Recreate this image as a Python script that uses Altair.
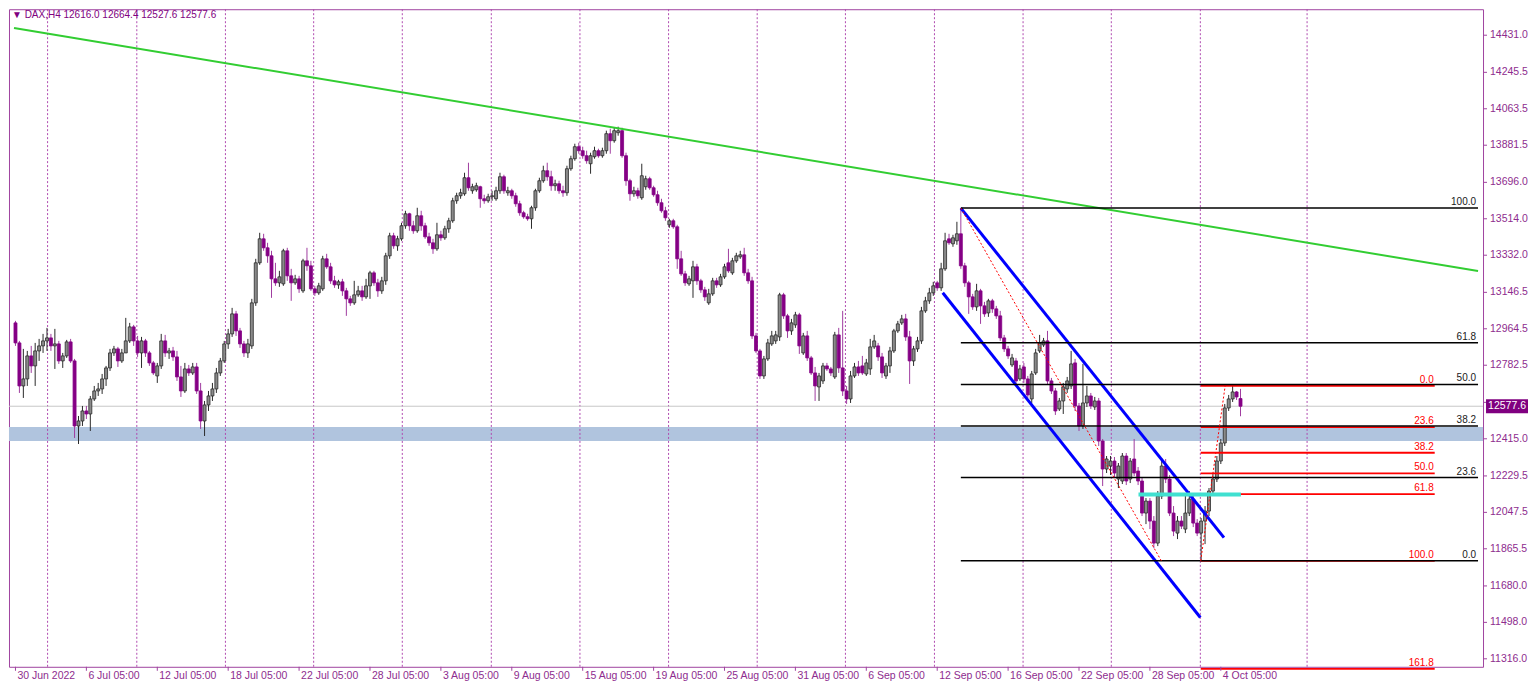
import altair as alt
import pandas as pd

# ---------------- data ----------------
symbol = "DAX,H4"

opens = [
    12994, 12894, 12679, 12714, 12829, 12779, 12854, 12879, 12904, 12919,
    12879, 12889, 12804, 12829, 12899, 12804, 12479, 12504, 12554, 12539,
    12614, 12654, 12664, 12714, 12769, 12844, 12864, 12804, 12844, 12904,
    12974, 12904, 12844, 12904, 12844, 12794, 12729, 12779, 12904, 12844,
    12854, 12824, 12724, 12654, 12764, 12744, 12774, 12654, 12504, 12584,
    12629, 12664, 12744, 12804, 12889, 12939, 13039, 12954, 12889, 12844,
    12879, 13094, 13294, 13414, 13369, 13329, 13214, 13194, 13189, 13354,
    13229, 13194, 13214, 13154, 13304, 13279, 13164, 13144, 13164, 13314,
    13274, 13204, 13184, 13199, 13154, 13114, 13094, 13134, 13154, 13124,
    13179, 13244, 13194, 13154, 13204, 13329, 13429, 13379, 13414, 13479,
    13539, 13479, 13454, 13529, 13479, 13424, 13394, 13364, 13434, 13419,
    13464, 13504, 13604, 13629, 13639, 13719, 13654, 13659, 13674, 13614,
    13604, 13624, 13614, 13654, 13724, 13644, 13654, 13629, 13589, 13544,
    13524, 13514, 13569, 13654, 13704, 13754, 13724, 13679, 13689, 13654,
    13644, 13764, 13814, 13874, 13854, 13829, 13789, 13824, 13854, 13829,
    13854, 13939, 13904, 13944, 13954, 13829, 13704, 13639, 13654, 13619,
    13674, 13714, 13669, 13634, 13594, 13554, 13484, 13504, 13474, 13314,
    13239, 13189, 13204, 13274, 13204, 13159, 13094, 13139, 13204, 13184,
    13224, 13294, 13244, 13304, 13324, 13334, 13244, 13204, 12929, 12854,
    12729, 12814, 12889, 12904, 12924, 13134, 13029, 12954, 12984, 13034,
    12844, 12929, 12819, 12744, 12674, 12704, 12779, 12764, 12724, 12934,
    12769, 12654, 12614, 12729, 12774, 12779, 12739, 12764, 12874, 12879,
    12824, 12729, 12779, 12854, 12954, 12994, 13014, 12924, 12804, 12864,
    12904, 13054, 13104, 13144, 13194, 13169, 13264, 13414, 13389, 13404,
    13439, 13279, 13194, 13124, 13074, 13154, 13079, 13044, 13104, 13064,
    13029, 12919, 12864, 12784, 12804, 12714, 12774, 12714, 12614, 12744,
    12854, 12884, 12904, 12704, 12654, 12564, 12604, 12664, 12679, 12794,
    12579, 12479, 12594, 12629, 12574, 12604, 12404, 12264, 12279, 12304,
    12214, 12204, 12329, 12214, 12314, 12254, 12204, 12044, 12104, 12004,
    11894, 12129, 12279, 12214, 12044, 11944, 12004, 11964, 12044, 12114,
    11994, 11944, 12004, 12054, 12154, 12214, 12304, 12394, 12569, 12614,
    12649, 12616.0,
]

highs = [
    13004, 12904, 12864, 12854, 12879, 12894, 12914, 12939, 12969, 12939,
    12964, 12904, 12844, 12909, 12914, 12814, 12529, 12579, 12579, 12629,
    12679, 12694, 12739, 12779, 12864, 12879, 12874, 12864, 13019, 12994,
    12984, 12929, 12924, 12914, 12854, 12804, 12794, 12939, 12934, 12869,
    12874, 12854, 12779, 12794, 12784, 12794, 12794, 12694, 12604, 12654,
    12694, 12769, 12819, 12904, 12964, 13069, 13054, 12969, 12904, 12914,
    13114, 13314, 13444, 13439, 13394, 13354, 13294, 13254, 13364, 13369,
    13264, 13234, 13229, 13314, 13369, 13304, 13179, 13194, 13329, 13339,
    13294, 13229, 13209, 13214, 13169, 13129, 13204, 13179, 13179, 13214,
    13254, 13254, 13214, 13224, 13344, 13444, 13444, 13429, 13494, 13554,
    13544, 13504, 13569, 13554, 13494, 13444, 13414, 13494, 13454, 13479,
    13519, 13619, 13644, 13664, 13744, 13794, 13689, 13694, 13679, 13634,
    13639, 13654, 13674, 13744, 13734, 13674, 13664, 13644, 13604, 13554,
    13539, 13579, 13664, 13719, 13779, 13794, 13754, 13709, 13704, 13679,
    13779, 13829, 13889, 13894, 13874, 13854, 13844, 13874, 13864, 13869,
    13954, 13964, 13969, 13974, 13969, 13844, 13714, 13674, 13669, 13789,
    13729, 13724, 13679, 13654, 13614, 13574, 13514, 13514, 13484, 13354,
    13254, 13229, 13304, 13289, 13214, 13174, 13164, 13219, 13219, 13239,
    13289, 13364, 13319, 13344, 13354, 13369, 13264, 13224, 12944, 12864,
    12829, 12914, 12954, 12954, 13144, 13144, 13039, 13014, 13049, 13044,
    12944, 12954, 12829, 12774, 12744, 12794, 12794, 12774, 12949, 12969,
    13054, 12679, 12754, 12794, 12804, 12829, 12814, 12914, 12934, 12894,
    12844, 12794, 12874, 12964, 13004, 13034, 13039, 12954, 12879, 12924,
    13074, 13124, 13169, 13199, 13204, 13294, 13444, 13439, 13434, 13499,
    13567.4, 13294, 13204, 13139, 13189, 13164, 13099, 13114, 13114, 13079,
    13054, 12934, 12879, 12839, 12819, 12784, 12794, 12729, 12754, 12864,
    12934, 12919, 12954, 12719, 12669, 12619, 12694, 12724, 12854, 12814,
    12594, 12789, 12679, 12644, 12624, 12619, 12414, 12329, 12329, 12324,
    12294, 12344, 12344, 12319, 12414, 12274, 12224, 12119, 12119, 12029,
    12154, 12319, 12314, 12234, 12079, 12029, 12029, 12144, 12154, 12134,
    12014, 12019, 12079, 12169, 12239, 12329, 12414, 12589, 12634, 12679,
    12654, 12664.4,
]

lows = [
    12879, 12644, 12619, 12679, 12744, 12679, 12804, 12844, 12854, 12854,
    12764, 12789, 12769, 12819, 12794, 12419, 12389, 12479, 12514, 12454,
    12604, 12629, 12639, 12679, 12754, 12829, 12774, 12794, 12844, 12894,
    12879, 12824, 12769, 12824, 12779, 12734, 12694, 12764, 12824, 12814,
    12804, 12704, 12624, 12644, 12729, 12734, 12639, 12464, 12429, 12554,
    12604, 12644, 12729, 12794, 12864, 12924, 12929, 12869, 12824, 12819,
    12864, 13079, 13284, 13354, 13294, 13119, 13179, 13174, 13179, 13204,
    13104, 13184, 13144, 13144, 13254, 13154, 13129, 13134, 13154, 13264,
    13189, 13169, 13164, 13129, 13029, 13079, 13084, 13124, 13104, 13114,
    13114, 13179, 13124, 13139, 13184, 13314, 13364, 13354, 13404, 13464,
    13454, 13439, 13444, 13454, 13414, 13379, 13339, 13354, 13404, 13409,
    13444, 13494, 13589, 13614, 13629, 13654, 13639, 13649, 13569, 13589,
    13594, 13604, 13604, 13639, 13639, 13629, 13614, 13574, 13529, 13514,
    13504, 13464, 13554, 13644, 13694, 13704, 13654, 13654, 13639, 13624,
    13629, 13754, 13804, 13839, 13814, 13789, 13739, 13814, 13819, 13819,
    13839, 13839, 13894, 13929, 13819, 13679, 13604, 13624, 13614, 13609,
    13659, 13659, 13624, 13579, 13544, 13504, 13469, 13464, 13264, 13229,
    13179, 13179, 13119, 13184, 13144, 13104, 13084, 13129, 13169, 13174,
    13214, 13244, 13234, 13294, 13314, 13229, 13189, 12914, 12844, 12714,
    12714, 12804, 12879, 12889, 12904, 13014, 12919, 12934, 12969, 12839,
    12834, 12804, 12734, 12604, 12604, 12689, 12754, 12729, 12714, 12744,
    12629, 12589, 12594, 12719, 12729, 12734, 12729, 12734, 12864, 12804,
    12719, 12714, 12744, 12844, 12944, 12984, 12904, 12689, 12779, 12849,
    12889, 13044, 13089, 13129, 13154, 13154, 13254, 13384, 13374, 13384,
    13264, 13174, 13039, 13059, 13054, 12989, 13024, 13024, 13044, 13014,
    12904, 12849, 12814, 12774, 12684, 12704, 12694, 12619, 12594, 12734,
    12844, 12874, 12684, 12639, 12534, 12554, 12539, 12644, 12664, 12554,
    12454, 12464, 12574, 12564, 12559, 12379, 12179, 12244, 12234, 12224,
    12169, 12189, 12184, 12194, 12229, 12184, 12029, 11989, 11964, 11869,
    11879, 12114, 12194, 12029, 11929, 11914, 11964, 11944, 12029, 11974,
    11929, 11805.2, 11889, 12029, 12134, 12199, 12289, 12379, 12554, 12599,
    12609, 12527.6,
]

closes = [
    12894, 12679, 12714, 12829, 12779, 12854, 12879, 12904, 12919, 12879,
    12889, 12804, 12829, 12899, 12804, 12479, 12504, 12554, 12539, 12614,
    12654, 12664, 12714, 12769, 12844, 12864, 12804, 12844, 12904, 12974,
    12904, 12844, 12904, 12844, 12794, 12744, 12779, 12904, 12844, 12854,
    12824, 12724, 12654, 12764, 12744, 12774, 12654, 12504, 12584, 12629,
    12664, 12744, 12804, 12889, 12939, 13039, 12954, 12889, 12844, 12889,
    13094, 13294, 13414, 13369, 13329, 13214, 13194, 13224, 13354, 13229,
    13194, 13214, 13164, 13304, 13279, 13164, 13144, 13179, 13314, 13274,
    13204, 13184, 13199, 13154, 13114, 13094, 13134, 13154, 13124, 13179,
    13244, 13194, 13154, 13204, 13329, 13429, 13379, 13414, 13479, 13539,
    13479, 13454, 13529, 13479, 13424, 13394, 13364, 13434, 13419, 13464,
    13504, 13604, 13629, 13644, 13719, 13669, 13674, 13679, 13614, 13604,
    13624, 13629, 13654, 13724, 13654, 13654, 13629, 13589, 13544, 13524,
    13514, 13569, 13654, 13704, 13754, 13724, 13679, 13689, 13654, 13644,
    13764, 13814, 13874, 13854, 13829, 13804, 13829, 13854, 13829, 13854,
    13939, 13904, 13954, 13954, 13829, 13704, 13639, 13654, 13629, 13729,
    13714, 13669, 13634, 13594, 13554, 13519, 13504, 13474, 13314, 13239,
    13194, 13214, 13274, 13204, 13159, 13124, 13139, 13204, 13184, 13224,
    13274, 13254, 13304, 13329, 13334, 13244, 13204, 12929, 12854, 12729,
    12814, 12894, 12929, 12934, 13134, 13029, 12954, 12994, 13034, 12879,
    12929, 12819, 12744, 12679, 12729, 12779, 12764, 12744, 12934, 12769,
    12654, 12614, 12729, 12774, 12744, 12744, 12794, 12874, 12904, 12824,
    12744, 12779, 12854, 12954, 12989, 13014, 12924, 12804, 12864, 12904,
    13054, 13104, 13144, 13179, 13169, 13264, 13404, 13394, 13419, 13439,
    13279, 13194, 13124, 13074, 13154, 13079, 13039, 13104, 13064, 13029,
    12919, 12864, 12829, 12819, 12704, 12764, 12714, 12634, 12739, 12844,
    12894, 12904, 12704, 12654, 12554, 12604, 12674, 12704, 12789, 12579,
    12479, 12594, 12629, 12579, 12604, 12404, 12264, 12314, 12304, 12244,
    12279, 12329, 12204, 12304, 12244, 12204, 12044, 12104, 12004, 11894,
    12129, 12279, 12214, 12044, 11954, 12004, 11979, 12044, 12114, 11994,
    11944, 12004, 12054, 12154, 12214, 12304, 12394, 12569, 12614, 12649,
    12624, 12577.6,
]

# time axis (bar index of labelled ticks and their texts)
tick_bars = [0, 18, 36, 54, 72, 90, 108, 126, 144, 162, 180, 198, 216, 234, 252, 270, 288, 306]
tick_labels = ["30 Jun 2022", "6 Jul 05:00", "12 Jul 05:00", "18 Jul 05:00", "22 Jul 05:00",
               "28 Jul 05:00", "3 Aug 05:00", "9 Aug 05:00", "15 Aug 05:00", "19 Aug 05:00",
               "25 Aug 05:00", "31 Aug 05:00", "6 Sep 05:00", "12 Sep 05:00", "16 Sep 05:00",
               "22 Sep 05:00", "28 Sep 05:00", "4 Oct 05:00"]
grid_bars = [8.15, 30.8, 53.3, 75.7, 98.2, 120.8, 143.3, 165.8, 188.3, 210.7,
             233.3, 255.8, 278.2, 300.8, 327.9]

# price scale labels (12597.0 sits under the current-price box in the reference)
price_ticks = [14431.0, 14245.5, 14063.5, 13881.5, 13696.0, 13514.0, 13332.0, 13146.5,
               12964.5, 12782.5, 12415.0, 12229.5, 12047.5, 11865.5, 11680.0,
               11498.0, 11316.0]
hidden_tick = 12597.0

# drawn objects
green_bars = [-0.376, 371.3]
green_prices = [14467.0, 13253.0]
chan_upper_bars = [240.0, 306.8]
chan_upper_prices = [13567.4, 11921.5]
chan_lower_bars = [235.4, 300.8]
chan_lower_prices = [13144.6, 11522.1]

fib1_bars = [240.0, 371.3]
fib1_high, fib1_low = 13567.4, 11805.2
fib1_levels = [0.0, 23.6, 38.2, 50.0, 61.8, 100.0]
fib1_trend_bars = [240.0, 290.9]

fib2_bars = [300.9, 360.3]
fib2_low, fib2_high = 11805.2, 12679.0
fib2_levels = [0.0, 23.6, 38.2, 50.0, 61.8, 100.0, 161.8]
fib2_trend_bars = [300.9, 307.1]

zone_prices = [12404.0, 12474.0]
cyan_bars = [285.1, 311.1]
cyan_price = 12137.0

# ---------------- styling ----------------
W, H = 1475, 658
FONT = "Liberation Sans"
TXT = "#8e2c8e"
FRAME = "#a043a0"
GRID = "#b04ab0"
BULL_FILL, BULL_EDGE = "#8a8a8a", "#2a2a2a"
BEAR_FILL, BEAR_WICK = "#850085", "#a03ca0"

xs = alt.Scale(domain=[-0.376, 371.3], nice=False, zero=False)
ys = alt.Scale(domain=[11276.1, 14560.8], nice=False, zero=False)


def X(f):
    return alt.X(f, type="quantitative", scale=xs, axis=None)


def Y(f):
    return alt.Y(f, type="quantitative", scale=ys, axis=None)


n = len(closes)
df = pd.DataFrame({"bar": list(range(n)), "open": opens, "high": highs,
                   "low": lows, "close": closes})
df["dir"] = ["up" if c >= o else "down" for o, c in zip(opens, closes)]
dir_dom = ["up", "down"]

zone = alt.Chart(pd.DataFrame({"lo": [zone_prices[0]], "hi": [zone_prices[1]]})).mark_rect(
    color="#b0c4de").encode(y=Y("lo"), y2="hi")

grid = alt.Chart(pd.DataFrame({"bar": grid_bars})).mark_rule(
    color=GRID, strokeDash=[2, 2], strokeWidth=1).encode(x=X("bar"))

last_line = alt.Chart(pd.DataFrame({"p": [closes[-1]]})).mark_rule(
    color="#c8c8c8", strokeWidth=1).encode(y=Y("p"))

wicks = alt.Chart(df).mark_rule(strokeWidth=1).encode(
    x=X("bar"), y=Y("low"), y2="high",
    color=alt.Color("dir:N", scale=alt.Scale(domain=dir_dom, range=[BULL_EDGE, BEAR_WICK]),
                    legend=None))

bodies = alt.Chart(df).mark_bar(size=3, strokeWidth=0.8).encode(
    x=X("bar"), y=Y("open"), y2="close",
    fill=alt.Fill("dir:N", scale=alt.Scale(domain=dir_dom, range=[BULL_FILL, BEAR_FILL]),
                  legend=None),
    stroke=alt.Stroke("dir:N", scale=alt.Scale(domain=dir_dom, range=[BULL_EDGE, BEAR_FILL]),
                      legend=None))


def seg_df(bars, prices):
    return pd.DataFrame({"x0": [bars[0]], "x1": [bars[1]], "y0": [prices[0]], "y1": [prices[1]]})


def seg(d, **kw):
    return alt.Chart(d).mark_rule(**kw).encode(x=X("x0"), x2="x1", y=Y("y0"), y2="y1")


green = seg(seg_df(green_bars, green_prices), color="#32cd32", strokeWidth=2)
channel = seg(pd.concat([seg_df(chan_upper_bars, chan_upper_prices),
                         seg_df(chan_lower_bars, chan_lower_prices)]),
              color="#0000ff", strokeWidth=3)

fib1_df = pd.DataFrame({
    "x0": fib1_bars[0], "x1": fib1_bars[1],
    "p": [fib1_low + lv / 100 * (fib1_high - fib1_low) for lv in fib1_levels],
    "t": ["%.1f" % lv for lv in fib1_levels]})
fib2_df = pd.DataFrame({
    "x0": fib2_bars[0], "x1": fib2_bars[1],
    "p": [fib2_high - lv / 100 * (fib2_high - fib2_low) for lv in fib2_levels],
    "t": ["%.1f" % lv for lv in fib2_levels]})

fib2_lines = alt.Chart(fib2_df).mark_rule(color="#ff0000", strokeWidth=1.8).encode(
    x=X("x0"), x2="x1", y=Y("p"))
fib1_lines = alt.Chart(fib1_df).mark_rule(color="#000000", strokeWidth=1.5).encode(
    x=X("x0"), x2="x1", y=Y("p"))
fib2_text = alt.Chart(fib2_df).mark_text(
    align="right", baseline="bottom", dx=-1, dy=-1, font=FONT, fontSize=10,
    color="#ff0000").encode(x=X("x1"), y=Y("p"), text="t:N")
fib1_text = alt.Chart(fib1_df).mark_text(
    align="right", baseline="bottom", dx=-2, dy=-1, font=FONT, fontSize=10,
    color="#202020").encode(x=X("x1"), y=Y("p"), text="t:N")

trend_red = seg(pd.concat([
    seg_df(fib1_trend_bars, [fib1_high, fib1_low]),
    seg_df(fib2_trend_bars, [fib2_low, fib2_high])]),
    color="#ff0000", strokeWidth=1, strokeDash=[2, 2])

cyan = seg(seg_df(cyan_bars, [cyan_price, cyan_price]), color="#40e0d0", strokeWidth=4)

# ---- hand-built axes (time labels below, price scale on the right) ----
xt_df = pd.DataFrame({"bar": tick_bars, "label": tick_labels})
x_ticks = alt.Chart(xt_df).mark_rule(color=FRAME, strokeWidth=1).encode(
    x=X("bar"), y=alt.value(H), y2=alt.value(H + 4))
x_labels = alt.Chart(xt_df).mark_text(
    align="left", baseline="top", dx=2, font=FONT, fontSize=10.5, color=TXT).encode(
    x=X("bar"), y=alt.value(H + 4), text="label:N")

yt_df = pd.DataFrame({"p": price_ticks, "label": ["%.1f" % v for v in price_ticks]})
y_ticks = alt.Chart(pd.DataFrame({"p": price_ticks + [hidden_tick]})).mark_rule(
    color=FRAME, strokeWidth=1).encode(x=alt.value(W), x2=alt.value(W + 4), y=Y("p"))
y_labels = alt.Chart(yt_df).mark_text(
    align="left", baseline="middle", font=FONT, fontSize=10.5, color=TXT).encode(
    x=alt.value(W + 7), y=Y("p"), text="label:N")

box_df = pd.DataFrame({"p": [closes[-1]], "top": [closes[-1] + 35], "bot": [closes[-1] - 35],
                       "t": ["%.1f" % closes[-1]]})
price_box = alt.Chart(box_df).mark_rect(color="#800080").encode(
    x=alt.value(W + 3), x2=alt.value(W + 45), y=Y("top"), y2="bot")
price_txt = alt.Chart(box_df).mark_text(
    color="white", font=FONT, fontSize=10.5, align="center", baseline="middle").encode(
    x=alt.value(W + 24), y=Y("p"), text="t:N")

title_str = "\u25bc %s  %.1f %.1f %.1f %.1f" % (symbol, opens[-1], highs[-1], lows[-1], closes[-1])
title = alt.Chart(pd.DataFrame({"t": [title_str]})).mark_text(
    align="left", baseline="top", font=FONT, fontSize=10, color="#800080").encode(
    x=alt.value(3), y=alt.value(1), text="t:N")

chart = alt.layer(
    zone, grid, last_line, wicks, bodies, green, channel,
    fib2_lines, fib1_lines, trend_red, cyan, fib2_text, fib1_text,
    x_ticks, x_labels, y_ticks, y_labels,
    price_box, price_txt, title
).properties(
    width=W, height=H, padding=0, background="white"
).configure_view(stroke=FRAME, strokeWidth=1)

chart.save("out.html", embed_options={"renderer": "svg", "actions": False})
